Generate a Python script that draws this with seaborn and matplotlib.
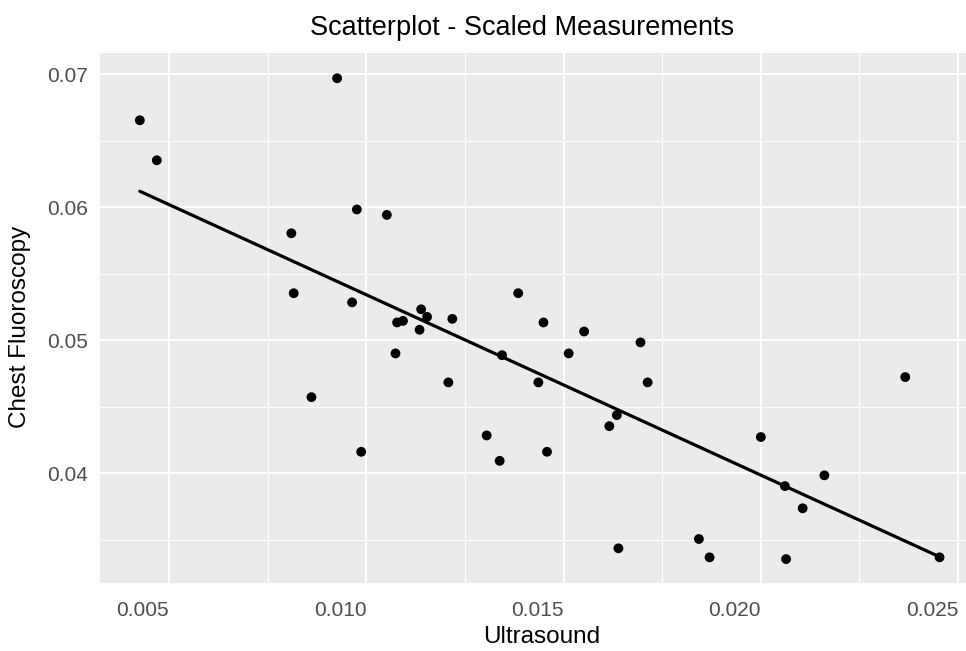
import numpy as np
import pandas as pd
import matplotlib
matplotlib.use("Agg")
import matplotlib.pyplot as plt
import seaborn as sns

ultrasound = [0.00426, 0.00469, 0.00926, 0.00976, 0.01052, 0.00810, 0.00816, 0.00964,
              0.01139, 0.01154, 0.01078, 0.01093, 0.01135, 0.01218, 0.01074, 0.01208,
              0.01344, 0.01385, 0.01449, 0.01436, 0.00861, 0.00987, 0.01305, 0.01338,
              0.01458, 0.01513, 0.01552, 0.01695, 0.01713, 0.01635, 0.01616, 0.01639,
              0.01843, 0.01870, 0.02000, 0.02061, 0.02064, 0.02106, 0.02161, 0.02366,
              0.02453]
chest_fluoroscopy = [0.06654, 0.06353, 0.06970, 0.05983, 0.05942, 0.05804, 0.05353, 0.05284,
                     0.05232, 0.05175, 0.05133, 0.05145, 0.05078, 0.05160, 0.04900, 0.04682,
                     0.04887, 0.05353, 0.05133, 0.04682, 0.04571, 0.04160, 0.04283, 0.04092,
                     0.04160, 0.04900, 0.05065, 0.04983, 0.04682, 0.04436, 0.04353, 0.03434,
                     0.03504, 0.03366, 0.04271, 0.03902, 0.03353, 0.03735, 0.03983, 0.04722,
                     0.03366]
fit_x = [0.00426, 0.02453]
fit_y = [0.06120, 0.03370]
x_ticks = [0.005, 0.010, 0.015, 0.020, 0.025]
x_tick_labels = ["0.005", "0.010", "0.015", "0.020", "0.025"]
y_ticks = [0.04, 0.05, 0.06, 0.07]
y_tick_labels = ["0.04", "0.05", "0.06", "0.07"]

df = pd.DataFrame({"Ultrasound": ultrasound, "Chest Fluoroscopy": chest_fluoroscopy})
fit = pd.DataFrame({"x": fit_x, "y": fit_y})

sns.set_theme(style="darkgrid")
plt.rcParams["font.family"] = ["Liberation Sans", "DejaVu Sans"]

W, H = 966, 651
L, R, T, B = 100, 966, 53, 583
fig = plt.figure(figsize=(W / 100, H / 100), dpi=100)
ax = fig.add_axes([L / W, 1 - B / H, (R - L) / W, (B - T) / H])
ax.set_facecolor("#EBEBEB")

sns.scatterplot(data=df, x="Ultrasound", y="Chest Fluoroscopy", ax=ax,
                color="black", s=50, edgecolor="none", zorder=3)
sns.lineplot(data=fit, x="x", y="y", ax=ax, color="black", linewidth=2.3, zorder=2)

ax.set_xlim(0.00325, 0.0252)
ax.set_ylim(0.03173, 0.0716)
ax.set_xticks(x_ticks)
ax.set_xticklabels(x_tick_labels)
ax.set_yticks(y_ticks)
ax.set_yticklabels(y_tick_labels)
ax.set_xticks([0.0075, 0.0125, 0.0175, 0.0225], minor=True)
ax.set_yticks([0.035, 0.045, 0.055, 0.065], minor=True)

ax.grid(which="major", color="white", linewidth=1.5)
ax.grid(which="minor", color="white", linewidth=0.75)
for s in ax.spines.values():
    s.set_visible(False)

ax.tick_params(axis="both", which="major", length=4.5, width=1.0, color="#333333",
               labelsize=15, labelcolor="#4D4D4D")
ax.tick_params(axis="x", which="major", pad=8.5)
ax.tick_params(axis="y", which="major", pad=4)
ax.tick_params(axis="both", which="minor", length=0)

for lbl in ax.get_xticklabels():
    lbl.set_ha("right")

ax.set_xlabel("Ultrasound", fontsize=17.5, color="black")
ax.set_ylabel("Chest Fluoroscopy", fontsize=17.5, color="black")
ax.xaxis.label.set_va("center")
ax.yaxis.label.set_va("center")
ax.xaxis.set_label_coords((542 - L) / (R - L), (B - 637) / (B - T))
ax.yaxis.set_label_coords((20 - L) / (R - L), (B - 327) / (B - T))

fig.text(522 / W, 1 - 35 / H, "Scatterplot - Scaled Measurements",
         ha="center", va="baseline", fontsize=19.5, color="black")

fig.savefig("out.png", dpi=100, facecolor="white")
